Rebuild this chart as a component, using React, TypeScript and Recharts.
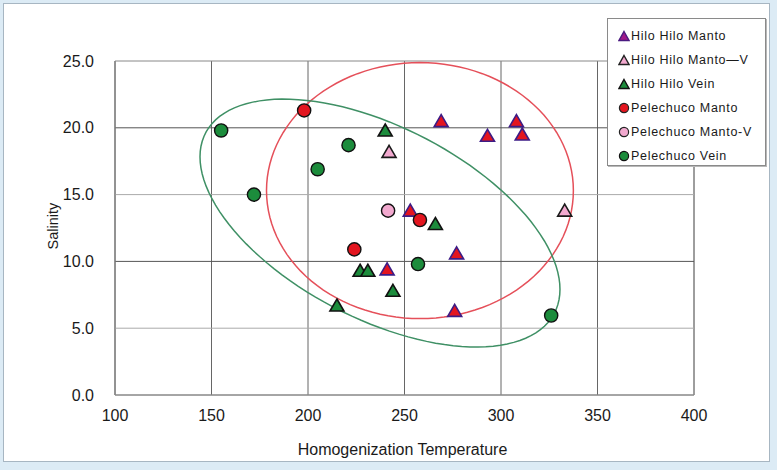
import React from 'react';
import { ScatterChart, Scatter, XAxis, YAxis, ReferenceLine, ReferenceArea, CartesianGrid } from 'recharts';

const tempTicks = [100, 150, 200, 250, 300, 350, 400];
const salinityTicks = [0, 5, 10, 15, 20, 25];

const hiloManto = [
  { x: 269, y: 20.5 }, { x: 293, y: 19.4 }, { x: 308, y: 20.5 }, { x: 311, y: 19.5 },
  { x: 253, y: 13.8 }, { x: 277, y: 10.6 }, { x: 241, y: 9.4 }, { x: 276, y: 6.3 },
];
const hiloMantoV = [{ x: 242, y: 18.2 }, { x: 333, y: 13.8 }];
const hiloVein = [
  { x: 240, y: 19.8 }, { x: 227, y: 9.3 }, { x: 231, y: 9.3 }, { x: 244, y: 7.8 },
  { x: 215, y: 6.7 }, { x: 266, y: 12.8 },
];
const peleManto = [{ x: 198, y: 21.3 }, { x: 224, y: 10.9 }, { x: 258, y: 13.1 }];
const peleMantoV = [{ x: 241.5, y: 13.8 }];
const peleVein = [
  { x: 155, y: 19.8 }, { x: 172, y: 15.0 }, { x: 205, y: 16.9 }, { x: 221, y: 18.7 },
  { x: 257, y: 9.8 }, { x: 326, y: 5.95 },
];

// Annotation ellipses: center and two conjugate semi-axis vectors in data units
const redEllipse = { cx: 258.0, cy: 15.3, ax: 79.5, ay: 0, bx: 0, by: 9.58 };
const greenEllipse = { cx: 237.3, cy: 12.87, ax: 93.26, ay: -4.96, bx: 0, by: 7.84 };

function ellipseOutline(e: typeof redEllipse) {
  const pts: { x: number; y: number }[] = [];
  const n = 120;
  for (let i = 0; i <= n; i++) {
    const t = (i / n) * Math.PI * 2;
    pts.push({
      x: e.cx + e.ax * Math.cos(t) + e.bx * Math.sin(t),
      y: e.cy + e.ay * Math.cos(t) + e.by * Math.sin(t),
    });
  }
  return pts;
}

const RED = '#e3151f';
const PINK = '#f2a9cf';
const GREEN = '#1c8c3c';

const makeTriangle = (fill: string, stroke: string) => (props: any) => {
  const { cx, cy } = props;
  if (cx == null || cy == null) return <g />;
  return (
    <polygon
      points={`${cx},${cy - 6.5} ${cx + 7},${cy + 5.5} ${cx - 7},${cy + 5.5}`}
      fill={fill}
      stroke={stroke}
      strokeWidth={1.6}
      strokeLinejoin="miter"
    />
  );
};
const makeCircle = (fill: string) => (props: any) => {
  const { cx, cy } = props;
  if (cx == null || cy == null) return <g />;
  return <circle cx={cx} cy={cy} r={6.6} fill={fill} stroke="#111" strokeWidth={1.4} />;
};
const noShape = () => <g />;

const legendItems = [
  { name: 'Hilo Hilo Manto', kind: 'tri', fill: '#a0188a', stroke: '#4a1a80' },
  { name: 'Hilo Hilo Manto\u2015V', kind: 'tri', fill: PINK, stroke: '#222' },
  { name: 'Hilo Hilo Vein', kind: 'tri', fill: GREEN, stroke: '#111' },
  { name: 'Pelechuco Manto', kind: 'circ', fill: RED, stroke: '#222' },
  { name: 'Pelechuco Manto-V', kind: 'circ', fill: PINK, stroke: '#222' },
  { name: 'Pelechuco Vein', kind: 'circ', fill: GREEN, stroke: '#111' },
];

const font = '"Liberation Sans", Arial, sans-serif';

export default function App() {
  return (
    <div style={{ position: 'absolute', left: 0, top: 0, width: 777, height: 470, background: '#dcebf5', overflow: 'hidden' }}>
      <div style={{ position: 'absolute', left: 3, top: 3, width: 765, height: 457, background: '#fff', border: '1px solid #a7b6c2' }} />
      <div style={{ position: 'absolute', left: 0, top: 0 }}>
        <ScatterChart width={777} height={470} margin={{ top: 61, right: 83, bottom: 0, left: 0 }}>
          <CartesianGrid horizontal={false} vertical={true} stroke="#666" strokeWidth={1} />
          {[5, 15].map((v) => (
            <ReferenceLine key={v} y={v} stroke="#aaa" strokeWidth={1} />
          ))}
          {[10, 20].map((v) => (
            <ReferenceLine key={v} y={v} stroke="#555" strokeWidth={1} />
          ))}
          <ReferenceArea x1={100} x2={400} y1={0} y2={25} fill="none" stroke="#888" strokeWidth={1} />
          <XAxis
            type="number"
            dataKey="x"
            domain={[100, 400]}
            ticks={tempTicks}
            allowDataOverflow
            height={75}
            tickSize={0}
            tickLine={false}
            tickMargin={15}
            axisLine={{ stroke: '#888' }}
            tick={{ fill: '#1a1a1a', fontSize: 16, fontFamily: font }}
            label={{
              content: (p: any) => {
                const vb = p.viewBox || {};
                const cx = (vb.x ?? 115) + (vb.width ?? 579) / 2;
                return (
                  <text x={cx - 2} y={455} textAnchor="middle" fill="#1a1a1a" fontSize={16} fontFamily={font}>
                    Homogenization Temperature
                  </text>
                );
              },
            }}
          />
          <YAxis
            type="number"
            dataKey="y"
            domain={[0, 25]}
            ticks={salinityTicks}
            allowDataOverflow
            width={115}
            tickSize={0}
            tickLine={false}
            tickMargin={21}
            axisLine={{ stroke: '#888' }}
            tickFormatter={(v: number) => v.toFixed(1)}
            tick={{ fill: '#1a1a1a', fontSize: 16, fontFamily: font }}
            label={{
              content: () => (
                <text x={53} y={226} transform="rotate(-90 53 226)" textAnchor="middle" dominantBaseline="central" fill="#1a1a1a" fontSize={14.5} fontFamily={font}>
                  Salinity
                </text>
              ),
            }}
          />
          <Scatter name="redEllipse" data={ellipseOutline(redEllipse)} line={{ stroke: '#e5505a', strokeWidth: 1.5 }} lineJointType="linear" shape={noShape} isAnimationActive={false} />
          <Scatter name="greenEllipse" data={ellipseOutline(greenEllipse)} line={{ stroke: '#3f9065', strokeWidth: 1.5 }} lineJointType="linear" shape={noShape} isAnimationActive={false} />
          <Scatter name="Hilo Hilo Manto" data={hiloManto} shape={makeTriangle(RED, '#3d1c86')} isAnimationActive={false} />
          <Scatter name="Hilo Hilo Manto-V" data={hiloMantoV} shape={makeTriangle(PINK, '#1a1a1a')} isAnimationActive={false} />
          <Scatter name="Hilo Hilo Vein" data={hiloVein} shape={makeTriangle(GREEN, '#111')} isAnimationActive={false} />
          <Scatter name="Pelechuco Manto" data={peleManto} shape={makeCircle(RED)} isAnimationActive={false} />
          <Scatter name="Pelechuco Manto-V" data={peleMantoV} shape={makeCircle(PINK)} isAnimationActive={false} />
          <Scatter name="Pelechuco Vein" data={peleVein} shape={makeCircle(GREEN)} isAnimationActive={false} />
        </ScatterChart>
      </div>
      <div
        style={{
          position: 'absolute', left: 607, top: 18, width: 159, height: 148, background: '#fff',
          border: '1px solid #8a8a8a', boxShadow: '1px 1px 0 #b8b8b8', boxSizing: 'border-box', paddingTop: 5,
          fontFamily: font, fontSize: 12.5, letterSpacing: 0.7, color: '#1a1a1a',
        }}
      >
        {legendItems.map((it) => (
          <div key={it.name} style={{ height: 24, display: 'flex', alignItems: 'center', paddingLeft: 10, whiteSpace: 'nowrap' }}>
            <svg width={12} height={12} style={{ marginRight: 1, flex: 'none' }}>
              {it.kind === 'tri' ? (
                <polygon points="6,1.5 11,10.5 1,10.5" fill={it.fill} stroke={it.stroke} strokeWidth={1.4} />
              ) : (
                <circle cx={6} cy={6} r={4.6} fill={it.fill} stroke={it.stroke} strokeWidth={1.2} />
              )}
            </svg>
            <span>{it.name}</span>
          </div>
        ))}
      </div>
    </div>
  );
}
